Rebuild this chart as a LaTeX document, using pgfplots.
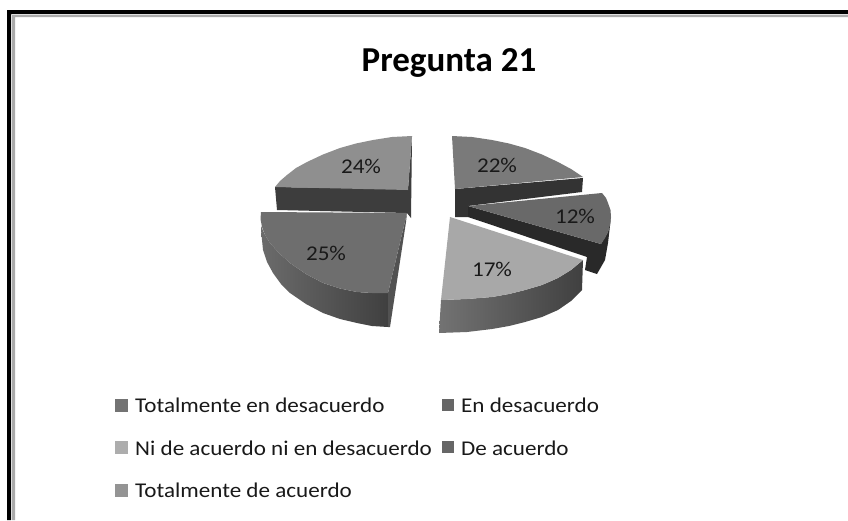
\documentclass[border=0pt]{standalone}
\usepackage{fontspec}
\setmainfont{Carlito}
\newfontfamily\wide[FakeStretch=1.1]{Carlito}
\usepackage{pgfplots}
\pgfplotsset{compat=1.18}
\definecolor{c24}{gray}{0.56}
\definecolor{c25}{gray}{0.43}
\definecolor{c22}{gray}{0.48}
\definecolor{c12}{gray}{0.41}
\definecolor{c17}{gray}{0.66}
\begin{document}
\begin{tikzpicture}
\begin{axis}[scale only axis,width=848pt,height=520pt,xmin=0,xmax=848,ymin=0,ymax=520,y dir=reverse,hide axis,clip=false]
% frame
\addplot[fill=white,draw=none,forget plot] coordinates {(0,0)(848,0)(848,520)(0,520)} --cycle;
\addplot[fill=black,draw=none] coordinates {(7,10)(848,10)(848,14)(11,14)(11,520)(7,520)} --cycle;
\addplot[fill=black!33,draw=none] coordinates {(12,15)(848,15)(848,17)(15,17)(15,520)(12,520)} --cycle;
% 24
\addplot[fill=black!76,draw=none] coordinates {(275,187)(408,189)(412,136)(411,218)(407,213)(277,210)} --cycle;
\addplot[fill=c24,draw=none] coordinates {(412,136)(392,137)(373,140)(356,143.5)(340,148)(323,154.5)(307,162)(296,168)(287,175)(280,181)(275,187)(408,190)} --cycle;
% 25 side
\addplot[left color=black!58,right color=black!75,draw=none] coordinates {(261,226)(265,235)(270,243)(279,253)(290,263)(306,274)(323,283)(340,288.5)(357,292)(372,293)(388,293)(388,327)(372,326)(357,323)(340,319)(323,313)(306,304)(290,293)(281,284)(273,273)(267,262)(263,250)(261,230)} --cycle;
\addplot[fill=black!68,draw=none] coordinates {(388,293)(407,213)(406,222)(390,327)(388,327)} --cycle;
\addplot[fill=c25,draw=none] coordinates {(261,212)(407,213)(388,293)(372,293)(357,292)(340,288.5)(323,283)(306,274)(290,263)(279,253)(270,243)(265,235)(262,227)(260.5,219)} --cycle;
% 22
\addplot[fill=black!80,draw=none] coordinates {(455,189)(583,178)(582,192)(468,206)(468,217)(455,217)} --cycle;
\addplot[fill=c22,draw=none] coordinates {(452,136)(472,137)(492,140)(509,143.5)(525,148)(542,154.5)(558,162)(571,169)(583,177)(455,189)} --cycle;
% 12
\addplot[fill=black!84,draw=none] coordinates {(468,206)(468,217)(587,257)(585,270)(597,274)(605,260)(608,243)(611,217)(608,232)(601,244)} --cycle;
\addplot[fill=c12,draw=none] coordinates {(468,206)(602,193)(606,198)(608,203)(610.5,210)(611,217)(610,225)(608,232)(605,238)(601,244)} --cycle;
% 17
\addplot[left color=black!55,right color=black!75,draw=none] coordinates {(441,300)(467,299)(492,297)(509,294)(525,290)(542,285)(558,278)(571,270)(583,260)(582,290)(571,301)(558,310)(542,317)(525,322)(509,326)(492,329)(467,332)(439,333)} --cycle;
\addplot[fill=c17,draw=none] coordinates {(450,217)(583,260)(571,270)(558,278)(542,285)(525,290)(509,294)(492,297)(467,299)(441,300)} --cycle;
% legend keys
\addplot[only marks,mark=square*,mark size=6pt,mark options={draw=black!55,line width=0pt,fill=black!55}] coordinates {(121,405)};
\addplot[only marks,mark=square*,mark size=5.5pt,mark options={draw=black!60,line width=0pt,fill=black!60}] coordinates {(448,405)};
\addplot[only marks,mark=square*,mark size=6pt,mark options={draw=black!32,line width=0pt,fill=black!32}] coordinates {(121,447)};
\addplot[only marks,mark=square*,mark size=5.5pt,mark options={draw=black!60,line width=0pt,fill=black!60}] coordinates {(448,447)};
\addplot[only marks,mark=square*,mark size=6pt,mark options={draw=black!42,line width=0pt,fill=black!42}] coordinates {(121,490)};
% text
\node[font=\fontsize{35}{38}\selectfont\bfseries] at (axis cs:449,63) {Pregunta 21};
\def\lab#1#2#3{\node[font=\wide\fontsize{21}{23}\selectfont,text=black!90] at (axis cs:#1,#2) {#3};}
\lab{361}{166}{24\%}\lab{326}{253}{25\%}\lab{497}{165}{22\%}\lab{575}{216}{12\%}\lab{492}{269}{17\%}
\def\leg#1#2#3{\node[anchor=west,inner sep=0pt,font=\wide\fontsize{21}{23}\selectfont,text=black!90] at (axis cs:#1,#2) {#3};}
\leg{135}{405}{Totalmente en desacuerdo}
\leg{461}{405}{En desacuerdo}
\leg{135}{448}{Ni de acuerdo ni en desacuerdo}
\leg{461}{448}{De acuerdo}
\leg{135}{490}{Totalmente de acuerdo}
\end{axis}
\end{tikzpicture}
\end{document}
